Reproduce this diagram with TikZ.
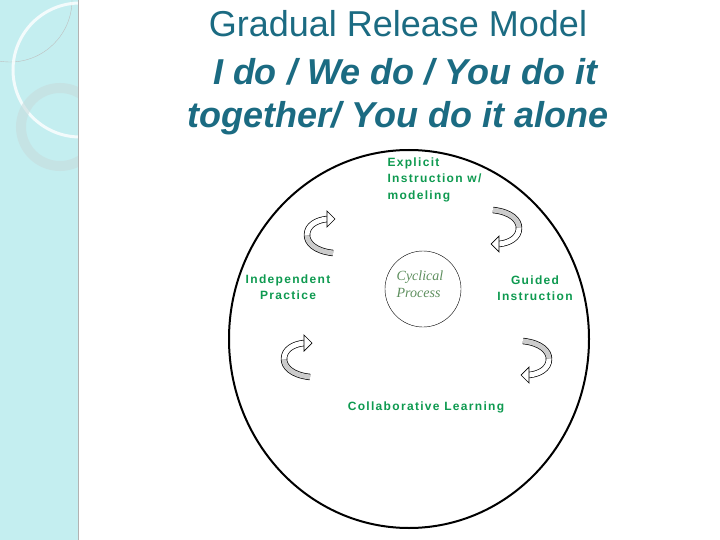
\documentclass[tikz,border=0pt]{standalone}
\usepackage{fontspec}
\setmainfont{Liberation Sans}
\newfontfamily\serifit{Liberation Serif}
\newfontfamily\spaced[LetterSpace=11]{Liberation Sans}
\definecolor{titleblue}{HTML}{1B6B82}
\definecolor{lgreen}{HTML}{0E9A50}
\definecolor{cgreen}{HTML}{5E8F5E}
\definecolor{panel}{HTML}{C4EEF0}
\tikzset{
  lbl/.style={text=lgreen, font=\spaced\bfseries\fontsize{12}{16.5}\selectfont, align=center},
  band/.style={line width=0.7pt, double distance=5pt},
  pics/carrow/.style={code={
    \draw[band, double=gray!40] (28,40) .. controls (10,38) and (2,30) .. (2,22);
    \draw[band, double=white] (2,22) .. controls (2,12) and (12,7) .. (22,6);
    \draw[fill=white, line width=0.7pt] (22,-2) -- (30,6) -- (22,14) -- cycle;
  }},
  pics/carrowr/.style={code={
    \draw[band, double=gray!40] (-28,-40) .. controls (-10,-38) and (-2,-30) .. (-2,-22);
    \draw[band, double=white] (-2,-22) .. controls (-2,-12) and (-12,-7) .. (-22,-6);
    \draw[fill=white, line width=0.7pt] (-22,2) -- (-30,-6) -- (-22,-14) -- cycle;
  }}
}
\begin{document}
\begin{tikzpicture}[x=1pt,y=-1pt]
\useasboundingbox (0,0) rectangle (720,540);
\fill[white] (0,0) rectangle (720,540);
\begin{scope}
\clip (0,0) rectangle (78,540);
\fill[panel] (0,0) rectangle (78,540);
\draw[gray!50, line width=0.4pt] (10,0) circle[radius=62];
\draw[white, line width=3pt, opacity=0.8] (80,70) circle[radius=67];
\draw[panel!70!gray!70, line width=10pt, opacity=0.6] (60,127) circle[radius=39];
\end{scope}
\draw[gray!60, line width=1pt] (78,0) -- (78,540);
\node[text=titleblue, font=\fontsize{36}{44}\selectfont] (t1) at (398,24) {Gradual Release Model};
\node[text=titleblue, font=\bfseries\itshape\fontsize{36}{44}\selectfont] (t2) at (405,72) {I do / We do / You do it};
\node[text=titleblue, font=\bfseries\itshape\fontsize{36}{44}\selectfont] (t3) at (398,118) {together/ You do it alone};
\draw[line width=2pt] (409,339) ellipse[x radius=180, y radius=189];
\node[draw, circle, minimum size=76pt, inner sep=0pt] (c) at (423,289) {};
\node[text=cgreen, font=\serifit\itshape\fontsize{14}{17}\selectfont, align=left] (cp) at (420,284) {Cyclical\\Process};
\node[lbl, align=left, anchor=north west] (e) at (384,154) {Explicit\\Instruction w/\\modeling};
\node[lbl] (g) at (535,288) {Guided\\Instruction};
\node[lbl] (i) at (288,287) {Independent\\Practice};
\node[lbl] (cl) at (426,407) {Collaborative Learning};
\pic at (305,213) {carrow};
\pic at (282,337) {carrow};
\pic at (521,250) {carrowr};
\pic at (551,381) {carrowr};
\end{tikzpicture}
\end{document}
